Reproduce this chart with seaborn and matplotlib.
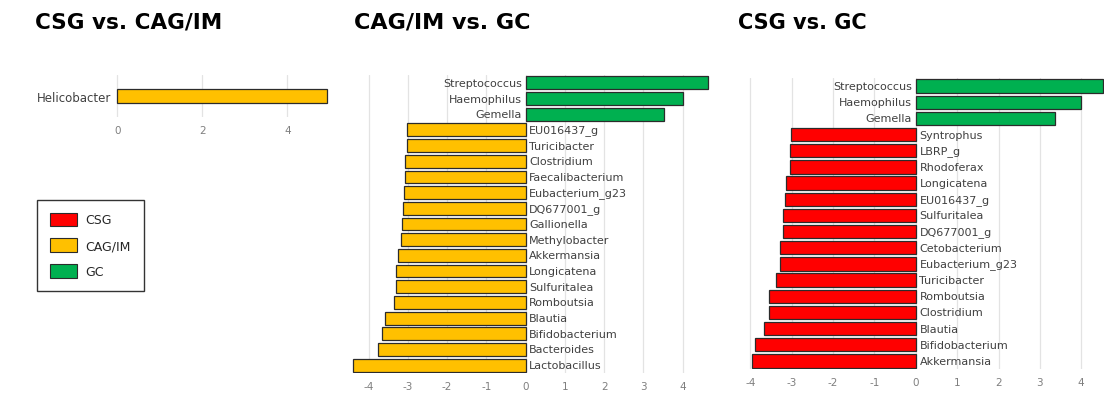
import matplotlib
matplotlib.use("Agg")
import matplotlib.pyplot as plt
import seaborn as sns
import pandas as pd
from matplotlib.patches import Patch

# ---------------- data ----------------
p1_taxa = ["Helicobacter"]
p1_vals = [4.94]
p1_group = ["CAG/IM"]

p2_taxa = ["Streptococcus", "Haemophilus", "Gemella", "EU016437_g", "Turicibacter",
           "Clostridium", "Faecalibacterium", "Eubacterium_g23", "DQ677001_g",
           "Gallionella", "Methylobacter", "Akkermansia", "Longicatena", "Sulfuritalea",
           "Romboutsia", "Blautia", "Bifidobacterium", "Bacteroides", "Lactobacillus"]
p2_vals = [4.65, 4.02, 3.53, -3.02, -3.02, -3.06, -3.06, -3.09, -3.12, -3.14, -3.17,
           -3.25, -3.30, -3.30, -3.34, -3.59, -3.67, -3.75, -4.39]
p2_group = ["GC", "GC", "GC"] + ["CAG/IM"] * 16

p3_taxa = ["Streptococcus", "Haemophilus", "Gemella", "Syntrophus", "LBRP_g", "Rhodoferax",
           "Longicatena", "EU016437_g", "Sulfuritalea", "DQ677001_g", "Cetobacterium",
           "Eubacterium_g23", "Turicibacter", "Romboutsia", "Clostridium", "Blautia",
           "Bifidobacterium", "Akkermansia"]
p3_vals = [4.53, 3.99, 3.36, -3.01, -3.04, -3.04, -3.13, -3.16, -3.20, -3.21, -3.28,
           -3.28, -3.38, -3.54, -3.54, -3.68, -3.88, -3.96]
p3_group = ["GC", "GC", "GC"] + ["CSG"] * 15

titles = ["CSG vs. CAG/IM", "CAG/IM vs. GC", "CSG vs. GC"]
legend_groups = ["CSG", "CAG/IM", "GC"]
colors = {"CSG": "#FF0000", "CAG/IM": "#FFC000", "GC": "#00B050"}

# ---------------- figure ----------------
W, H = 1104, 402
sns.set_theme(style="white")
plt.rcParams["font.family"] = ["DejaVu Sans"]
fig = plt.figure(figsize=(W / 100, H / 100), dpi=100)


def px_axes(l, t, r, b):
    return fig.add_axes([l / W, 1 - b / H, (r - l) / W, (b - t) / H])


def draw(ax, taxa, vals, groups, xlim, ticks, width, inside_labels=True):
    df = pd.DataFrame({"taxon": taxa, "val": vals, "group": groups})
    sns.barplot(data=df, x="val", y="taxon", hue="group", palette=colors, dodge=False,
                orient="h", width=width, edgecolor="#2b2b2b", linewidth=0.9,
                saturation=1, legend=False, ax=ax)
    ax.set_axisbelow(True)
    ax.set_xlim(*xlim)
    ax.set_xticks(ticks)
    ax.set_xticklabels([str(t) for t in ticks])
    ax.tick_params(axis="x", length=0, labelsize=7.5, colors="#7f7f7f", pad=6)
    ax.grid(axis="x", color="#e3e3e3", linewidth=0.9)
    ax.grid(axis="y", visible=False)
    for s in ax.spines.values():
        s.set_visible(False)
    ax.set_xlabel("")
    ax.set_ylabel("")
    if inside_labels:
        ax.set_yticks([])
        for i, (t, v) in enumerate(zip(taxa, vals)):
            if v >= 0:
                ax.text(-0.09, i, t, ha="right", va="center", fontsize=8, color="#404040", zorder=4)
            else:
                ax.text(0.09, i, t, ha="left", va="center", fontsize=8, color="#404040", zorder=4)
    else:
        ax.tick_params(axis="y", length=0, labelsize=8.5, colors="#404040", pad=3)


# panel 1
ax1 = px_axes(115, 76, 332, 118)
draw(ax1, p1_taxa, p1_vals, p1_group, (-0.05, 5.05), [0, 2, 4], 0.34, inside_labels=False)

# panel 2
ax2 = px_axes(345, 76, 716, 374)
draw(ax2, p2_taxa, p2_vals, p2_group, (-4.6, 4.85), [-4, -3, -2, -1, 0, 1, 2, 3, 4], 0.82)

# panel 3
ax3 = px_axes(742, 79, 1104, 370)
draw(ax3, p3_taxa, p3_vals, p3_group, (-4.2, 4.55), [-4, -3, -2, -1, 0, 1, 2, 3, 4], 0.82)

# titles
for x, t, fs in zip([35, 354, 738], titles, [15.5, 16, 15]):
    fig.text(x / W, 1 - 23 / H, t, ha="left", va="center", fontsize=fs,
             fontweight="bold", color="black")

# legend
handles = [Patch(facecolor=colors[g], edgecolor="#2b2b2b", linewidth=0.8, label=g)
           for g in legend_groups]
leg = fig.legend(handles=handles, loc="upper left",
                 bbox_to_anchor=(37 / W, 1 - 201 / H), frameon=True, fancybox=False,
                 fontsize=9, handlelength=2.2, handleheight=1.3, labelspacing=0.95,
                 borderpad=1.0, handletextpad=0.7, borderaxespad=0)
leg.get_frame().set_edgecolor("black")
leg.get_frame().set_linewidth(1.0)

fig.savefig("out.png", dpi=100)
